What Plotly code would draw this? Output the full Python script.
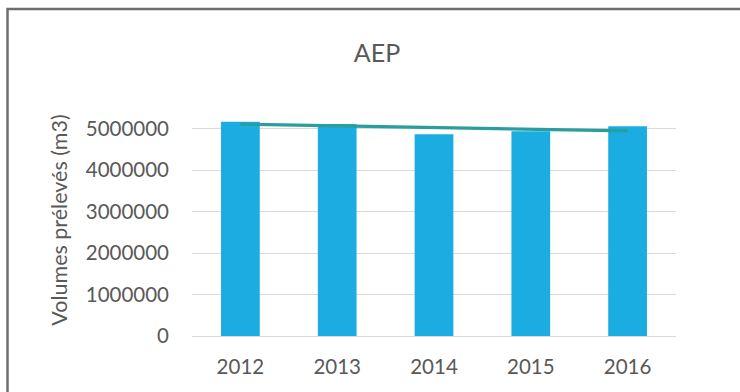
import numpy as np
import plotly.graph_objects as go

# Volumes prélevés pour l'AEP, par année
years = ["2012", "2013", "2014", "2015", "2016"]
volumes = [5170000, 5120000, 4870000, 4940000, 5060000]

# Linear trend through the yearly volumes
idx = np.arange(len(volumes))
slope, intercept = np.polyfit(idx, volumes, 1)
trend = (slope * idx + intercept).tolist()

W, H = 740, 392
ML, MR, MT, MB = 192, 64, 104, 56
PW, PH = W - ML - MR, H - MT - MB

def px_x(px):
    return (px - ML) / PW

def px_y(py):
    return (H - MB - py) / PH

font_family = "Lato, 'Noto Sans', sans-serif"
text_col = "#595959"

fig = go.Figure()
fig.add_trace(go.Bar(
    x=years, y=volumes,
    marker=dict(color="#1BACE2", line=dict(width=0)),
    width=0.4,
    showlegend=False,
))
fig.add_trace(go.Scatter(
    x=years, y=trend, mode="lines",
    line=dict(color="#2A9D9F", width=3.2),
    showlegend=False,
))

fig.update_layout(
    width=W, height=H,
    margin=dict(l=ML, r=MR, t=MT, b=MB),
    paper_bgcolor="white", plot_bgcolor="white",
    font=dict(family=font_family, color=text_col, size=20.5),
    title=dict(
        text="AEP", x=377 / W, xref="container", xanchor="center",
        y=1 - 53 / H, yref="container", yanchor="middle",
        font=dict(size=25, color=text_col),
    ),
    xaxis=dict(
        type="category", showgrid=False, zeroline=False, showline=False,
        ticks="", ticklabelstandoff=16,
        tickfont=dict(size=20.5, color=text_col),
    ),
    yaxis=dict(
        range=[0, 5.6e6], dtick=1e6, tick0=0, tickformat="d",
        showgrid=True, gridcolor="#D9D9D9", gridwidth=1.3,
        zeroline=True, zerolinecolor="#D9D9D9", zerolinewidth=1.3,
        showline=False, ticks="", ticklabelstandoff=22,
        tickfont=dict(size=20.5, color=text_col),
        title=dict(text="Volumes prélevés (m3)", standoff=12,
                   font=dict(size=21.5, color=text_col)),
    ),
    shapes=[dict(
        type="rect", xref="paper", yref="paper",
        x0=px_x(7.5), x1=px_x(760), y0=px_y(410), y1=px_y(9),
        line=dict(color="#6E6E6E", width=2.5), fillcolor="rgba(0,0,0,0)",
        layer="above",
    )],
)

fig.write_html("out.html")
